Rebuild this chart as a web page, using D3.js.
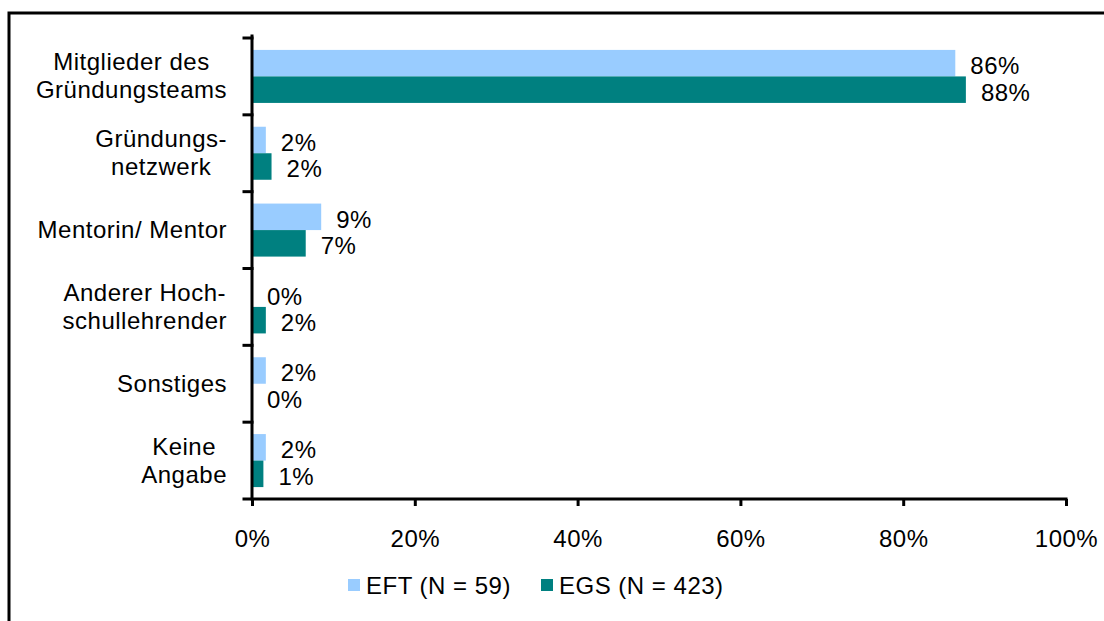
<!DOCTYPE html>
<html>
<head>
<meta charset="utf-8">
<script src="https://cdn.jsdelivr.net/npm/d3@7"></script>
<style>
  html, body { margin: 0; padding: 0; background: #fff; }
  svg text { font-family: "Liberation Sans", Arial, sans-serif; font-size: 24px; letter-spacing: 0.5px; fill: #000; }
</style>
</head>
<body>
<svg id="chart" width="1104" height="621"></svg>
<script>
// Categories (each entry holds the lines of its label)
const categories = [
  ["Mitglieder des", "Gründungsteams"],
  ["Gründungs-", "netzwerk"],
  ["Mentorin/ Mentor"],
  ["Anderer Hoch-", "schullehrender"],
  ["Sonstiges"],
  ["Keine", "Angabe"]
];
const seriesNames = ["EFT (N = 59)", "EGS (N = 423)"];
// Share of respondents in percent
const eftValues = [86.4, 1.7, 8.5, 0, 1.7, 1.7];
const egsValues = [87.7, 2.4, 6.6, 1.7, 0, 1.4];
const xTicks = [0, 20, 40, 60, 80, 100];
const colors = ["#99CCFF", "#008080"];

const svg = d3.select("#chart");

// outer frame
svg.append("rect")
  .attr("x", 9).attr("y", 13)
  .attr("width", 1110).attr("height", 620)
  .attr("fill", "#fff").attr("stroke", "#000").attr("stroke-width", 3);

const plotLeft = 252, plotRight = 1066, plotTop = 38, plotBottom = 499;

const x = d3.scaleLinear().domain([0, 100]).range([plotLeft, plotRight]);
const y = d3.scaleBand().domain(d3.range(categories.length)).range([plotTop, plotBottom]).paddingInner(0.31).paddingOuter(0.155);
const ySub = d3.scaleBand().domain([0, 1]).range([0, y.bandwidth()]);

const series = [eftValues, egsValues];
const rows = categories.map((c, i) => ({ i, vals: series.map(s => s[i]) }));

const g = svg.append("g");

const groups = g.selectAll("g.cat").data(rows).join("g")
  .attr("class", "cat")
  .attr("transform", d => `translate(0,${y(d.i)})`);

groups.selectAll("rect").data(d => d.vals.map((v, k) => ({ v, k }))).join("rect")
  .attr("x", x(0))
  .attr("y", d => ySub(d.k))
  .attr("width", d => x(d.v) - x(0))
  .attr("height", ySub.bandwidth())
  .attr("fill", d => colors[d.k]);

groups.selectAll("text.val").data(d => d.vals.map((v, k) => ({ v, k }))).join("text")
  .attr("class", "val")
  .attr("x", d => x(d.v) + 15)
  .attr("y", d => ySub(d.k) + ySub.bandwidth() / 2 + 11)
  .text(d => d3.format(".0f")(d.v) + "%");

// category axis with centred multi-line labels, right edge near the axis
const boundaries = d3.range(categories.length + 1).map(i => plotTop + i * (plotBottom - plotTop) / categories.length);
const catLabels = svg.append("g");
categories.forEach((lines, i) => {
  const cy = y(i) + y.bandwidth() / 2;
  const t = catLabels.append("text").attr("text-anchor", "middle");
  lines.forEach((ln, j) => {
    t.append("tspan").text(ln)
      .attr("y", cy + 8 + (j - (lines.length - 1) / 2) * 28);
  });
  let maxW = 0;
  t.selectAll("tspan").each(function () { maxW = Math.max(maxW, this.getComputedTextLength()); });
  t.selectAll("tspan").attr("x", 227 - maxW / 2);
});

// axes lines
const axisG = svg.append("g").attr("stroke", "#000").attr("stroke-width", 3).attr("stroke-linecap", "square");
axisG.append("line").attr("x1", plotLeft).attr("x2", plotLeft).attr("y1", 36).attr("y2", plotBottom);
axisG.append("line").attr("x1", plotLeft - 8).attr("x2", plotRight).attr("y1", plotBottom).attr("y2", plotBottom);
axisG.selectAll("line.yt").data(boundaries.slice(0, -1)).join("line")
  .attr("class", "yt")
  .attr("x1", plotLeft - 8).attr("x2", plotLeft).attr("y1", d => d).attr("y2", d => d);

// x axis ticks and labels
const xAxis = d3.axisBottom(x).tickValues(xTicks).tickSize(7).tickPadding(24).tickFormat(d => d + "%");
const xg = svg.append("g").attr("transform", `translate(0,${plotBottom})`).call(xAxis);
xg.select(".domain").remove();
xg.selectAll(".tick line").attr("stroke", "#000").attr("stroke-width", 3);
xg.selectAll(".tick text").attr("font-size", null).attr("font-family", null).attr("fill", "#000");

// legend
const legendX = [348, 541];
const legend = svg.append("g");
seriesNames.forEach((name, k) => {
  legend.append("rect").attr("x", legendX[k]).attr("y", 579).attr("width", 12).attr("height", 12).attr("fill", colors[k]);
  legend.append("text").attr("x", legendX[k] + 18).attr("y", 594).text(name);
});
</script>
</body>
</html>
